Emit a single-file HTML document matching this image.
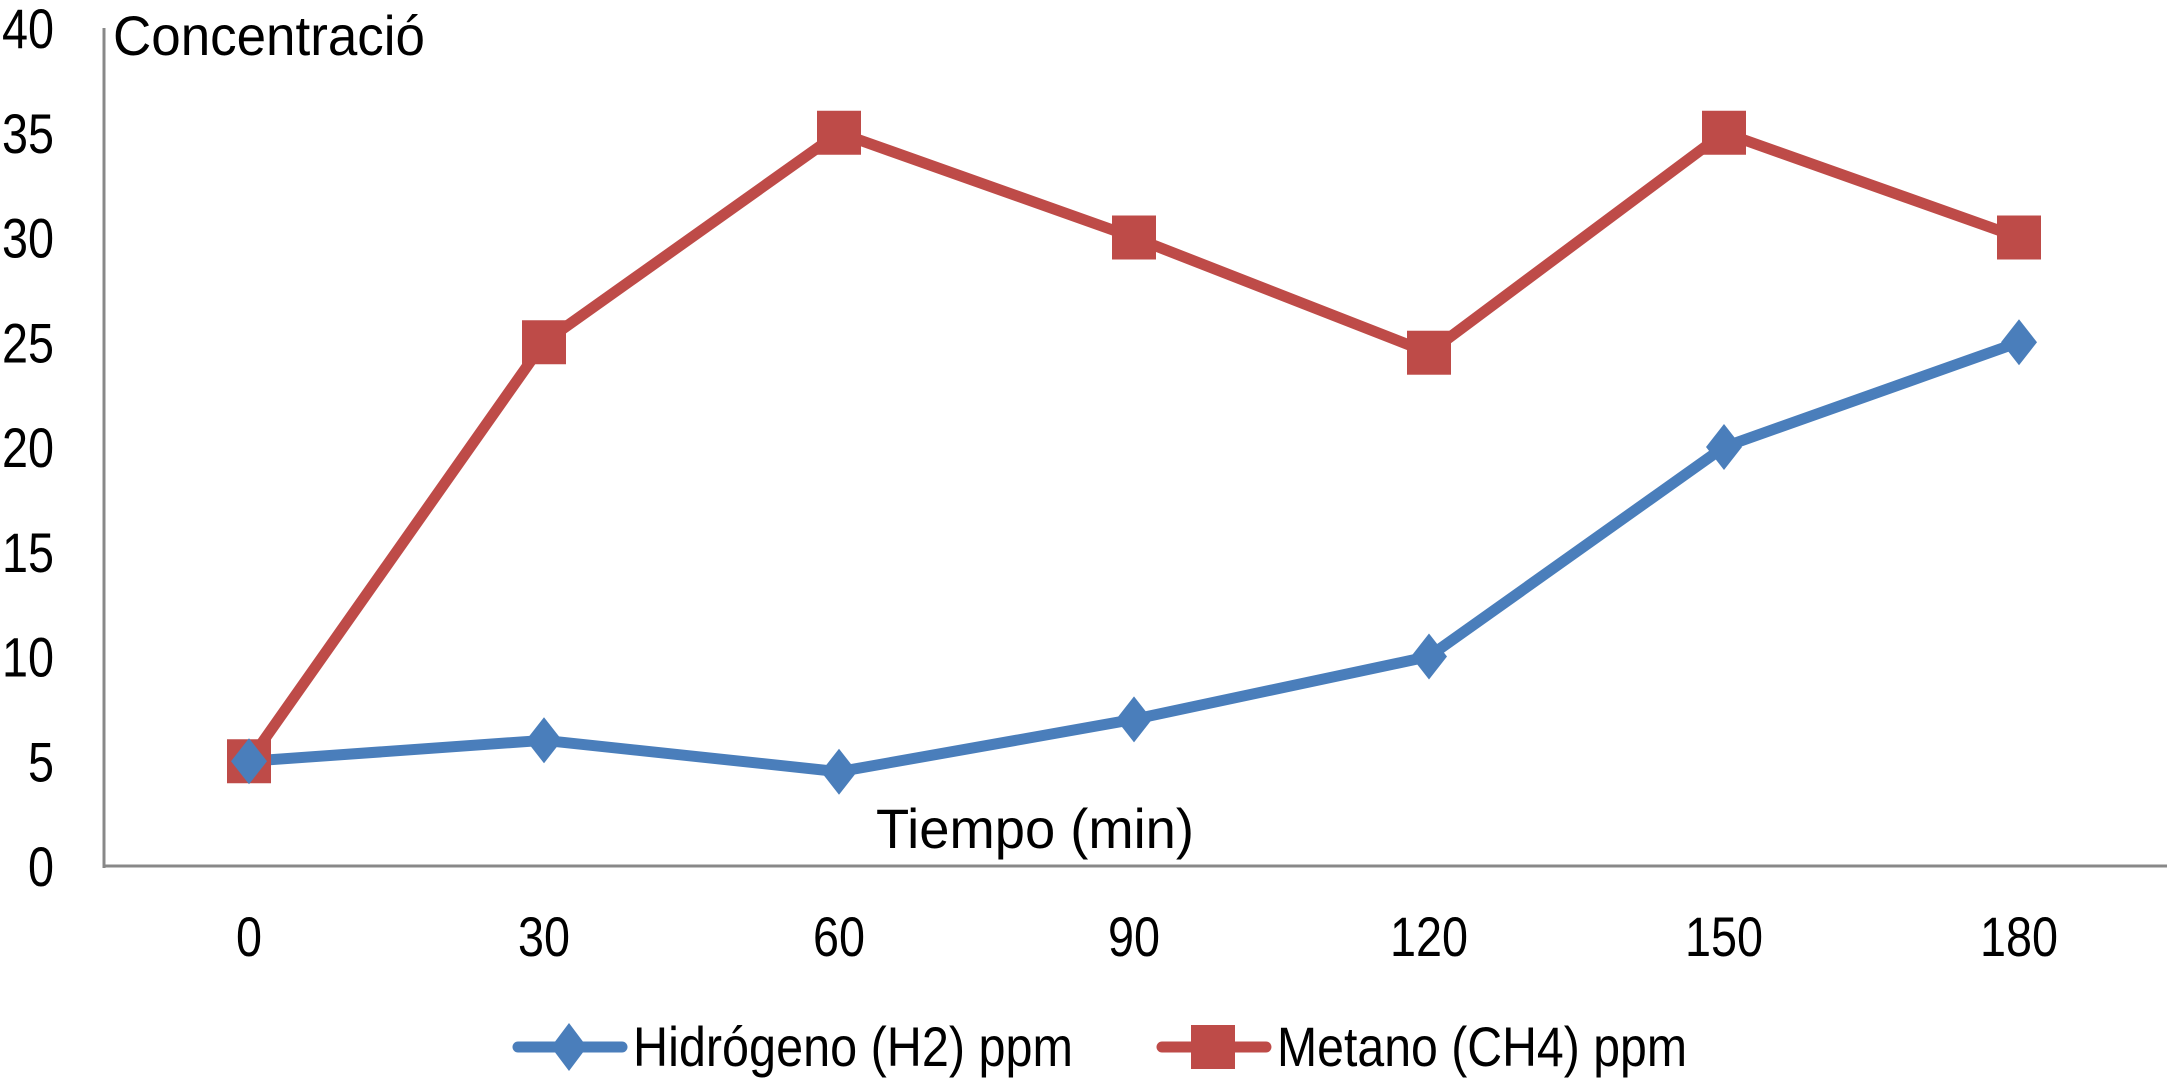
<!DOCTYPE html>
<html><head><meta charset="utf-8"><style>
html,body{margin:0;padding:0;background:#fff;}
svg{display:block;font-family:"Liberation Sans",sans-serif;}
</style></head><body>
<svg id="chart" width="2167" height="1080" viewBox="0 0 2167 1080" xmlns="http://www.w3.org/2000/svg">
<g id="axes"></g>
<g id="series"></g>
<text x="113" y="55" font-size="56" textLength="312" lengthAdjust="spacingAndGlyphs" fill="#000">Concentració</text>
<text x="876" y="848" font-size="56" textLength="318" lengthAdjust="spacingAndGlyphs" fill="#000">Tiempo (min)</text>
<g>
 <g>
  <line x1="518" y1="1047" x2="622" y2="1047" stroke="#4a7ebb" stroke-width="11" stroke-linecap="round"/>
  <polygon points="569,1023 587,1047 569,1071 551,1047" fill="#4a7ebb"/>
  <text x="633" y="1066" font-size="56" textLength="440" lengthAdjust="spacingAndGlyphs">Hidrógeno (H2) ppm</text>
 </g>
 <g>
  <line x1="1162" y1="1047" x2="1266" y2="1047" stroke="#be4b48" stroke-width="11" stroke-linecap="round"/>
  <rect x="1191" y="1025" width="44" height="44" fill="#be4b48"/>
  <text x="1277" y="1066" font-size="56" textLength="410" lengthAdjust="spacingAndGlyphs">Metano (CH4) ppm</text>
 </g>
</g>
</svg>
<script>
const categories = [0, 30, 60, 90, 120, 150, 180];
const yTicks = [0, 5, 10, 15, 20, 25, 30, 35, 40];
const h2Values = [5, 6, 4.5, 7, 10, 20, 25];
const ch4Values = [5, 25, 35, 30, 24.5, 35, 30];

const NS = "http://www.w3.org/2000/svg";
const x0 = 249, xStep = 295, yBase = 866, yTop = 28, yMax = 40;
function xScale(i){ return x0 + i * xStep; }
function yScale(v){ return yBase - (v / yMax) * (yBase - yTop); }
function mk(tag, attrs, parent){ const e = document.createElementNS(NS, tag); for (const k in attrs) e.setAttribute(k, attrs[k]); parent.appendChild(e); return e; }

const axes = document.getElementById('axes');
const yAxis = mk('line', {x1:104, y1:yTop, x2:104, y2:yBase+2, stroke:'#888', 'stroke-width':3}, axes);


const xAxis = mk('line', {x1:103, y1:yBase, x2:2167, y2:yBase, stroke:'#888', 'stroke-width':3}, axes);


yTicks.forEach(v => {
  const s = String(v);
  const w = s.length * 26;
  const t = mk('text', {x:54 - w, y:yScale(v)+20, 'font-size':56, textLength:w, lengthAdjust:'spacingAndGlyphs'}, axes);
  t.textContent = s;
  
  
});
categories.forEach((c, i) => {
  const s = String(c);
  const w = s.length * 26;
  const t = mk('text', {x:xScale(i) - w/2, y:956, 'font-size':56, textLength:w, lengthAdjust:'spacingAndGlyphs'}, axes);
  t.textContent = s;
  
  
});

const series = document.getElementById('series');
function drawLine(vals, color, name){
  const pts = vals.map((v, i) => xScale(i) + ',' + yScale(v)).join(' ');
  const pl = mk('polyline', {points:pts, fill:'none', stroke:color, 'stroke-width':11, 'stroke-linejoin':'round'}, series);
  
  
}
drawLine(ch4Values, '#be4b48', 'ch4');
drawLine(h2Values, '#4a7ebb', 'h2');
ch4Values.forEach((v, i) => {
  const r = mk('rect', {x:xScale(i)-22, y:yScale(v)-22, width:44, height:44, fill:'#be4b48'}, series);
  
  
});
h2Values.forEach((v, i) => {
  const cx = xScale(i), cy = yScale(v);
  const p = mk('polygon', {points:`${cx},${cy-23} ${cx+18},${cy} ${cx},${cy+23} ${cx-18},${cy}`, fill:'#4a7ebb'}, series);
  
  
});
</script>
</body></html>
